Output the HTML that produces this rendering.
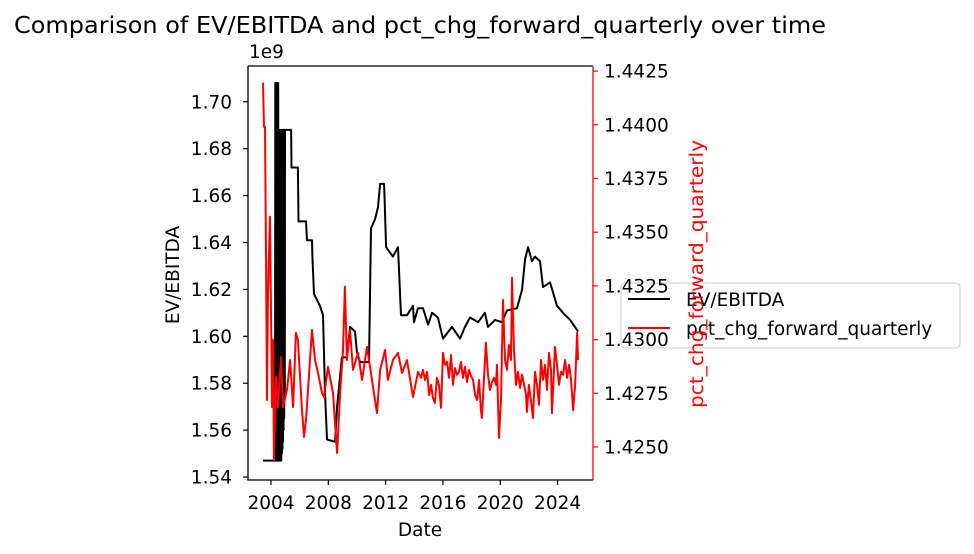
<!DOCTYPE html>
<html><head><meta charset="utf-8"><style>
html,body{margin:0;padding:0;background:#fff;width:974px;height:554px;overflow:hidden}
svg text{font-family:"DejaVu Sans","Liberation Sans",sans-serif}
</style></head><body>
<svg id="chart" width="974" height="554" viewBox="0 0 974 554" xmlns="http://www.w3.org/2000/svg">
<text x="420" y="33" font-size="23.5" text-anchor="middle" textLength="812" lengthAdjust="spacingAndGlyphs">Comparison of EV/EBITDA and pct_chg_forward_quarterly over time</text>
<g id="plot"></g>
</svg>
<script>
const xTicks = [2004, 2008, 2012, 2016, 2020, 2024];
const leftTicks = [1.54, 1.56, 1.58, 1.60, 1.62, 1.64, 1.66, 1.68, 1.70];
const leftTickLabels = ["1.54","1.56","1.58","1.60","1.62","1.64","1.66","1.68","1.70"];
const rightTicks = [1.4250, 1.4275, 1.4300, 1.4325, 1.4350, 1.4375, 1.4400, 1.4425];
const rightTickLabels = ["1.4250","1.4275","1.4300","1.4325","1.4350","1.4375","1.4400","1.4425"];

const evDates = [2003.44,2004.28,2004.30,2004.32,2004.34,2004.36,2004.38,2004.40,2004.42,2004.44,2004.46,2004.48,2004.50,2004.52,2004.54,2004.56,2004.58,2004.60,2004.62,2004.64,2004.66,2004.68,2004.70,2004.72,2004.74,2004.76,2004.78,2004.80,2004.82,2004.84,2004.86,2004.88,2004.90,2004.92,2004.94,2004.96,2004.98,2005.00,2005.40,2005.43,2005.88,2005.92,2006.44,2006.51,2006.86,2006.89,2007.00,2007.42,2007.63,2007.77,2007.91,2008.47,2008.61,2008.95,2009.30,2009.51,2009.86,2010.00,2010.21,2010.84,2010.98,2011.26,2011.47,2011.61,2011.89,2012.03,2012.51,2012.86,2013.07,2013.49,2013.70,2013.91,2013.98,2014.26,2014.61,2014.96,2015.24,2015.65,2016.00,2016.63,2017.19,2017.54,2017.89,2018.45,2018.93,2019.14,2019.63,2020.12,2020.47,2021.17,2021.52,2021.73,2021.94,2022.21,2022.42,2022.77,2022.98,2023.47,2023.96,2024.38,2024.87,2025.43];
const evValues = [1.547,1.547,1.708,1.547,1.708,1.547,1.708,1.547,1.708,1.547,1.708,1.547,1.708,1.547,1.688,1.547,1.688,1.547,1.688,1.547,1.688,1.547,1.688,1.547,1.688,1.550,1.688,1.552,1.688,1.555,1.688,1.560,1.688,1.565,1.688,1.575,1.688,1.688,1.688,1.672,1.672,1.649,1.649,1.641,1.641,1.634,1.618,1.613,1.609,1.576,1.556,1.555,1.570,1.591,1.591,1.604,1.602,1.593,1.589,1.589,1.646,1.650,1.655,1.665,1.665,1.638,1.634,1.638,1.609,1.609,1.611,1.613,1.606,1.612,1.612,1.605,1.610,1.608,1.599,1.604,1.599,1.604,1.608,1.606,1.610,1.604,1.607,1.606,1.611,1.612,1.620,1.633,1.638,1.632,1.634,1.632,1.621,1.623,1.613,1.610,1.607,1.602];

const pctDates = [2003.44,2003.51,2003.58,2003.65,2003.72,2003.79,2003.93,2004.07,2004.14,2004.21,2004.35,2004.49,2004.70,2004.84,2005.12,2005.33,2005.54,2005.74,2005.88,2006.16,2006.30,2006.44,2006.86,2007.07,2007.28,2007.56,2007.70,2007.98,2008.33,2008.61,2008.82,2009.02,2009.16,2009.30,2009.51,2009.72,2010.07,2010.35,2010.70,2011.05,2011.40,2011.61,2011.96,2012.16,2012.51,2012.86,2013.14,2013.49,2013.91,2014.26,2014.47,2014.61,2014.75,2014.89,2015.03,2015.17,2015.30,2015.44,2015.58,2015.72,2015.86,2016.00,2016.14,2016.28,2016.42,2016.56,2016.70,2016.84,2016.98,2017.12,2017.26,2017.40,2017.54,2017.68,2017.82,2017.96,2018.10,2018.24,2018.38,2018.52,2018.65,2018.72,2018.86,2019.00,2019.14,2019.28,2019.42,2019.56,2019.70,2019.77,2019.91,2020.05,2020.19,2020.33,2020.47,2020.61,2020.75,2020.82,2020.96,2021.10,2021.24,2021.38,2021.52,2021.66,2021.80,2021.86,2022.00,2022.14,2022.28,2022.42,2022.56,2022.70,2022.84,2022.98,2023.12,2023.26,2023.40,2023.54,2023.61,2023.82,2023.96,2024.10,2024.24,2024.38,2024.52,2024.66,2024.80,2024.94,2025.08,2025.22,2025.36,2025.43];
const pctValues = [1.44196,1.43991,1.43991,1.43404,1.42719,1.43218,1.43572,1.42686,1.42999,1.42439,1.42826,1.42686,1.42919,1.42686,1.42766,1.42905,1.42686,1.43031,1.42999,1.42672,1.42547,1.42626,1.43045,1.42905,1.42845,1.42752,1.42733,1.42873,1.42752,1.42472,1.42752,1.42938,1.43246,1.42905,1.43045,1.42859,1.42938,1.42812,1.42966,1.42812,1.42658,1.42859,1.42952,1.42812,1.42905,1.42938,1.42845,1.42905,1.42733,1.4285,1.42822,1.42859,1.42812,1.4285,1.42742,1.42789,1.42728,1.42705,1.42822,1.42789,1.42682,1.42938,1.42882,1.42896,1.42822,1.42929,1.42789,1.42868,1.42836,1.4285,1.42896,1.42822,1.42873,1.42803,1.42859,1.42831,1.42812,1.42742,1.42719,1.42812,1.42672,1.42635,1.42812,1.42985,1.42836,1.42766,1.42803,1.42822,1.42789,1.42882,1.42542,1.42719,1.43185,1.42905,1.42859,1.42975,1.42905,1.43288,1.42952,1.42789,1.4285,1.42775,1.42836,1.42789,1.42742,1.42663,1.42789,1.42719,1.42635,1.4285,1.42789,1.42696,1.42905,1.42812,1.42882,1.42766,1.42938,1.42859,1.42658,1.42966,1.42882,1.42789,1.4285,1.42836,1.42905,1.42822,1.42882,1.42812,1.42672,1.42789,1.43031,1.42905];

const NS = "http://www.w3.org/2000/svg";
const g = document.getElementById("plot");
const L = 248, R = 593, T = 66, B = 480;
function xScale(yr){ return 271 + (yr - 2004) * 14.33; }
function yLeft(v){ return 477 - (v - 1.54) / 0.02 * 46.9; }
function yRight(v){ return 447 - (v - 1.425) / 0.0025 * 53.7; }
function mk(tag, attrs){ const e = document.createElementNS(NS, tag); for (const k in attrs) e.setAttribute(k, attrs[k]); g.appendChild(e); return e; }

let d = evDates.map((t,i)=>(i?"L":"M")+xScale(t).toFixed(1)+","+yLeft(evValues[i]).toFixed(1)).join("");
const evLine = mk("path",{d:d,fill:"none",stroke:"#000","stroke-width":2,"stroke-linejoin":"round"});



// legend (belongs to primary axes, drawn beneath secondary axes)
const lg = mk("rect",{x:621,y:283,width:339,height:65,rx:4,fill:"#fff","fill-opacity":0.8,stroke:"#ccc","stroke-width":1});


const l1 = mk("line",{x1:628,y1:299,x2:670,y2:299,stroke:"#000","stroke-width":2});


const t1 = mk("text",{x:686,y:306,"font-size":18.5});
t1.textContent = "EV/EBITDA";


const l2 = mk("line",{x1:628,y1:328,x2:670,y2:328,stroke:"#ff0000","stroke-width":2});


const t2 = mk("text",{x:686,y:335,"font-size":18.5});
t2.textContent = "pct_chg_forward_quarterly";



d = pctDates.map((t,i)=>(i?"L":"M")+xScale(t).toFixed(1)+","+yRight(pctValues[i]).toFixed(1)).join("");
const pctLine = mk("path",{d:d,fill:"none",stroke:"#ff0000","stroke-width":2,"stroke-linejoin":"round"});



const frame = mk("path",{d:`M${L},${T}H${R}M${L},${T}V${B}H${R}`,fill:"none",stroke:"#000","stroke-width":1.3});


const rAxis = mk("line",{x1:R,y1:T,x2:R,y2:B,stroke:"#ff0000","stroke-width":1.3});



xTicks.forEach(t=>{
  const x = xScale(t);
  const tk = mk("line",{x1:x,y1:B,x2:x,y2:B+5,stroke:"#000","stroke-width":1.2});
  
  
  const tx = mk("text",{x:x,y:B+29,"font-size":18.5,"text-anchor":"middle"});
  tx.textContent = t;
  
  
});
leftTicks.forEach((v,i)=>{
  const y = yLeft(v);
  const tk = mk("line",{x1:L-5,y1:y,x2:L,y2:y,stroke:"#000","stroke-width":1.2});
  
  
  const tx = mk("text",{x:L-16,y:y+6.5,"font-size":18.5,"text-anchor":"end"});
  tx.textContent = leftTickLabels[i];
  
  
});
rightTicks.forEach((v,i)=>{
  const y = yRight(v);
  const tk = mk("line",{x1:R,y1:y,x2:R+5,y2:y,stroke:"#ff0000","stroke-width":1.2});
  
  
  const tx = mk("text",{x:R+11,y:y+6.5,"font-size":18.5});
  tx.textContent = rightTickLabels[i];
  
  
});

const off = mk("text",{x:L+1,y:58,"font-size":18.5});
off.textContent = "1e9";


const xl = mk("text",{x:420,y:536,"font-size":18.5,"text-anchor":"middle"});
xl.textContent = "Date";


const yl = mk("text",{x:0,y:0,"font-size":18.5,"text-anchor":"middle",transform:"translate(179,275) rotate(-90)"});
yl.textContent = "EV/EBITDA";


const yr2 = mk("text",{x:0,y:0,"font-size":18.5,fill:"#ff0000","text-anchor":"middle",transform:"translate(703,274) rotate(-90)",textLength:268,lengthAdjust:"spacingAndGlyphs"});
yr2.textContent = "pct_chg_forward_quarterly";


</script>
</body></html>
